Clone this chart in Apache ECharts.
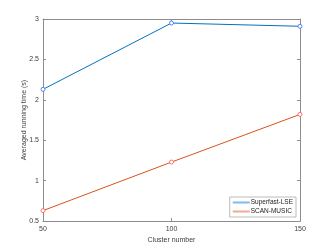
<!DOCTYPE html>
<html><head><meta charset="utf-8">
<script src="https://cdn.jsdelivr.net/npm/echarts@6/dist/echarts.min.js"></script>
<style>html,body{margin:0;padding:0;background:#fff}#c{width:332px;height:249px}</style>
</head><body><div id="c"></div>
<script>
var categories = [50, 100, 150];
var superfast = [2.13, 2.95, 2.91];
var scanMusic = [0.63, 1.23, 1.82];
var yTicks = [0.5, 1, 1.5, 2, 2.5, 3];

var chart = echarts.init(document.getElementById('c'), null, {renderer: 'canvas'});
var axisCol = '#8c8c8c';
var txtCol = '#404040';
function pairs(v){ return categories.map(function(c,i){return [c, v[i]];}); }
var common = {
  axisLine:{show:true, lineStyle:{color:axisCol, width:1}},
  axisTick:{show:true, inside:true, length:3, lineStyle:{color:axisCol}},
  splitLine:{show:false}
};
chart.setOption({
  animation:false,
  grid:{left:43, right:32, top:19, bottom:27, containLabel:false},
  legend:{
    right:36, bottom:32, orient:'vertical', itemGap:2, itemWidth:17, itemHeight:2,
    backgroundColor:'#fff', borderColor:'#aaa', borderWidth:0.8, padding:[2,3,2,3],
    textStyle:{fontSize:6.5, fontFamily:'Liberation Sans', color:'#222', padding:[0,0,0,-4]},
    data:[
      {name:'Superfast-LSE', icon:'rect', itemStyle:{color:'#7dbde8', borderWidth:0}},
      {name:'SCAN-MUSIC', icon:'rect', itemStyle:{color:'#f2ab8a', borderWidth:0}}
    ]
  },
  xAxis:[
    Object.assign({type:'value', min:50, max:150, interval:50, position:'bottom',
      name:'Cluster number', nameLocation:'middle', nameGap:12,
      nameTextStyle:{fontSize:7, fontFamily:'Liberation Sans', color:txtCol},
      axisLabel:{fontSize:7, fontFamily:'Liberation Sans', color:txtCol, margin:4}}, common),
    Object.assign({type:'value', min:50, max:150, interval:50, position:'top',
      axisLabel:{show:false}}, common)
  ],
  yAxis:[
    Object.assign({type:'value', min:0.5, max:3, interval:0.5, position:'left',
      name:'Averaged running time (s)', nameLocation:'middle', nameGap:15, nameMoveOverlap:false,
      nameTextStyle:{fontSize:7, fontFamily:'Liberation Sans', color:txtCol},
      axisLabel:{fontSize:7, fontFamily:'Liberation Sans', color:txtCol, margin:4,
        formatter:function(v){return String(v);}}}, common),
    Object.assign({type:'value', min:0.5, max:3, interval:0.5, position:'right',
      axisLabel:{show:false}}, common)
  ],
  series:[
    {name:'Superfast-LSE', type:'line', data:pairs(superfast), symbol:'circle', symbolSize:4,
     color:'#0072BD', lineStyle:{width:1, color:'#0072BD'},
     itemStyle:{color:'#fff', borderColor:'#3366ff', borderWidth:0.8}},
    {name:'SCAN-MUSIC', type:'line', data:pairs(scanMusic), symbol:'circle', symbolSize:4,
     color:'#D95319', lineStyle:{width:1, color:'#D95319'},
     itemStyle:{color:'#fff', borderColor:'#ff5050', borderWidth:0.8}}
  ]
});
</script></body></html>
